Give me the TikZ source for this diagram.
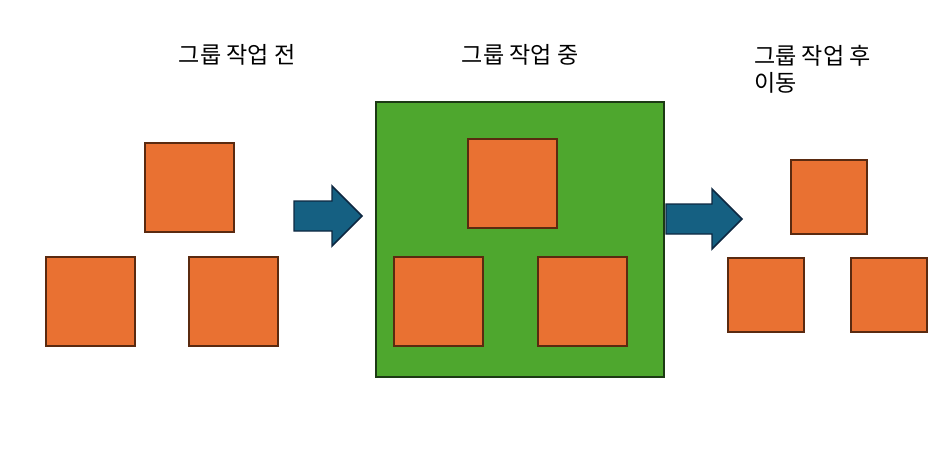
\documentclass[tikz,border=0pt]{standalone}
\usepackage{fontspec}
\newfontfamily\kr{Noto Sans CJK KR}
\definecolor{orf}{HTML}{E97132}
\definecolor{ord}{HTML}{5A2A10}
\definecolor{grf}{HTML}{4EA72E}
\definecolor{grd}{HTML}{1C3A14}
\definecolor{blf}{HTML}{156082}
\definecolor{bld}{HTML}{0E2841}
\begin{document}
\begin{tikzpicture}[x=0.75pt,y=-0.75pt,
  sq/.style={draw=ord,fill=orf,line width=1.1pt,inner sep=0pt,outer sep=0pt},
  big/.style={sq,minimum width=66.75pt,minimum height=66.75pt},
  small/.style={sq,minimum width=57pt,minimum height=55.5pt},
  grp/.style={draw=grd,fill=grf,line width=1.1pt,inner sep=0pt,outer sep=0pt},
  barrow/.style={draw=bld,fill=blf,line width=1.1pt,line join=miter},
  lbl/.style={font=\kr\fontsize{17.3pt}{20.3pt}\selectfont,inner sep=0pt}]
\useasboundingbox (0,0) rectangle (949,461);
% group before
\node[big] (a1) at (189.5,187.5) {};
\node[big] (a2) at (90.5,301.5) {};
\node[big] (a3) at (233.5,301.5) {};
% group during
\node[grp,minimum width=216pt,minimum height=206.25pt] (g) at (520,239.5) {};
\node[big] (b1) at (512.5,183.5) {};
\node[big] (b2) at (438.5,301.5) {};
\node[big] (b3) at (582.5,301.5) {};
% after
\node[small] (c1) at (829,197) {};
\node[small] (c2) at (766,295) {};
\node[small] (c3) at (889,295) {};
% arrows
\draw[barrow] (294,201) -- (332,201) -- (332,186) -- (362,216) -- (332,246) -- (332,231) -- (294,231) -- cycle;
\draw[barrow] (666,204) -- (712,204) -- (712,189) -- (742,219) -- (712,249) -- (712,234) -- (666,234) -- cycle;
% labels
\node[lbl] (t1) at (237,55) {그룹 작업 전};
\node[lbl] (t2) at (520,55) {그룹 작업 중};
\node[lbl,anchor=west,align=left] (t3) at (754,69.5) {그룹 작업 후\\이동};
\end{tikzpicture}
\end{document}
